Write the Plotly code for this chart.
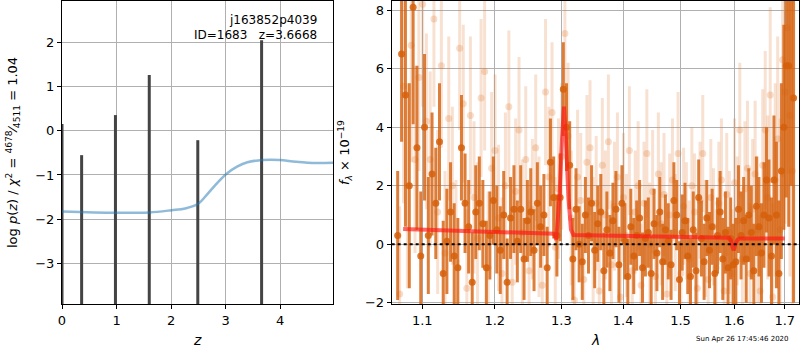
import plotly.graph_objects as go

# ---------------- left panel data ----------------
pz_grid = [0.0, 0.98, 1.6, 2.01, 2.26, 2.49, 2.69, 2.87, 3.03, 3.21, 3.40, 3.68, 3.99, 4.29, 4.66, 4.97]
pz_prior = [-1.83, -1.86, -1.85, -1.80, -1.76, -1.66, -1.40, -1.15, -0.96, -0.81, -0.71, -0.66, -0.66, -0.70, -0.73, -0.72]
peak_z = [0.0, 0.36, 0.98, 1.60, 2.49, 3.66]
peak_logp = [0.16, -0.55, 0.36, 1.27, -0.21, 2.06]
pz_floor = -3.93

# ---------------- right panel data ----------------
dark_wave = [1.068, 1.073, 1.078, 1.083, 1.088, 1.093, 1.098, 1.103, 1.108, 1.113,
             1.118, 1.123, 1.128, 1.133, 1.138, 1.143, 1.148, 1.153, 1.158, 1.163,
             1.168, 1.173, 1.178, 1.183, 1.188, 1.193, 1.198, 1.203, 1.208, 1.213,
             1.218, 1.223, 1.228, 1.233, 1.238, 1.243, 1.248, 1.253, 1.258, 1.263,
             1.268, 1.273, 1.278, 1.283, 1.288, 1.293, 1.298, 1.303, 1.308, 1.313,
             1.318, 1.323, 1.328, 1.333, 1.338, 1.343, 1.348, 1.353, 1.358, 1.363,
             1.368, 1.373, 1.378, 1.383, 1.388, 1.393, 1.398, 1.403, 1.408, 1.413,
             1.418, 1.423, 1.428, 1.433, 1.438, 1.443, 1.448, 1.453, 1.458, 1.463,
             1.468, 1.473, 1.478, 1.483, 1.488, 1.493, 1.498, 1.503, 1.508, 1.513,
             1.518, 1.523, 1.528, 1.533, 1.538, 1.543, 1.548, 1.553, 1.558, 1.563,
             1.568, 1.573, 1.578, 1.583, 1.588, 1.593, 1.598, 1.603, 1.608, 1.613,
             1.618, 1.623, 1.628, 1.633, 1.638, 1.643, 1.648, 1.653, 1.658, 1.663,
             1.668, 1.673, 1.678, 1.683, 1.688, 1.693, 1.698, 1.703, 1.708, 1.713,
             1.718]
dark_flux = [0.3, 6.5, 5.1, 2.0, 8.1, 3.3, -0.4, 4.0, 0.3, 2.4,
             1.4, 3.5, -1.0, 0.1, 1.1, -0.4, -0.8, 3.3, 1.4, 0.6,
             -1.3, 1.1, 1.4, 0.7, -0.8, 0.3, 1.5, 0.5, -0.2, 1.0,
             -1.3, 0.9, 1.2, 0.1, 1.2, -0.5, 0.8, 1.1, -0.2, 1.4,
             0.6, 1.0, -0.8, 2.8, 1.6, 0.3, 1.6, 5.3, 4.0, 2.7,
             -0.5, 1.2, 0.0, -0.6, 1.0, 0.3, 1.4, -0.2, 0.7, 1.1,
             -0.9, 0.5, -0.3, 0.8, 1.2, -0.7, 1.4, 0.1, -1.1, 0.6,
             -0.4, 0.3, 0.9, -0.8, 0.2, 0.4, -1.0, 0.7, -0.3, 1.1,
             -0.6, 0.5, 0.1, -0.7, 1.5, 1.0, -1.2, 0.4, 0.8, -0.4,
             -1.1, 0.5, -0.9, 1.6, 0.2, -0.6, 0.9, -0.2, 0.6, -1.0,
             0.3, 1.1, -0.5, 0.4, -0.8, 0.2, -0.7, -0.6, 1.2, 0.3,
             0.8, -0.5, 1.0, 0.4, -0.9, 1.3, 0.6, -0.3, 1.0, 2.2,
             0.9, -0.4, 2.2, 1.0, -1.0, 2.5, 4.0, 6.1, 6.1, 8.5,
             5.0]
dark_err = [2.2, 3.0, 4.5, 3.5, 4.0, 2.8, 2.2, 2.5, 2.0, 2.1,
            1.9, 2.0, 1.8, 1.8, 1.7, 1.8, 1.7, 1.8, 1.7, 1.6,
            1.7, 1.6, 1.6, 1.5, 1.6, 1.5, 1.5, 1.5, 1.5, 1.5,
            1.5, 1.4, 1.5, 1.4, 1.5, 1.4, 1.4, 1.5, 1.4, 1.4,
            1.4, 1.4, 1.4, 1.5, 1.4, 1.4, 1.5, 1.6, 1.5, 1.5,
            1.4, 1.4, 1.3, 1.3, 1.3, 1.3, 1.3, 1.3, 1.3, 1.3,
            1.3, 1.3, 1.3, 1.3, 1.3, 1.3, 1.3, 1.3, 1.3, 1.3,
            1.3, 1.2, 1.3, 1.2, 1.3, 1.2, 1.3, 1.2, 1.3, 1.2,
            1.3, 1.2, 1.3, 1.2, 1.3, 1.2, 1.3, 1.3, 1.3, 1.3,
            1.3, 1.3, 1.3, 1.3, 1.3, 1.3, 1.3, 1.3, 1.3, 1.3,
            1.3, 1.4, 1.4, 1.4, 1.4, 1.4, 1.4, 1.5, 1.5, 1.5,
            1.5, 1.5, 1.6, 1.6, 1.6, 1.7, 1.7, 1.7, 1.8, 1.8,
            2.0, 2.0, 2.2, 2.5, 2.5, 3.0, 3.5, 4.5, 5.5, 6.5,
            7.0]

light_wave = [1.0705, 1.0755, 1.0805, 1.0855, 1.0905, 1.0955, 1.1005, 1.1055, 1.1105, 1.1155,
              1.1205, 1.1255, 1.1305, 1.1355, 1.1405, 1.1455, 1.1505, 1.1555, 1.1605, 1.1655,
              1.1705, 1.1755, 1.1805, 1.1855, 1.1905, 1.1955, 1.2005, 1.2055, 1.2105, 1.2155,
              1.2205, 1.2255, 1.2305, 1.2355, 1.2405, 1.2455, 1.2505, 1.2555, 1.2605, 1.2655,
              1.2705, 1.2755, 1.2805, 1.2855, 1.2905, 1.2955, 1.3005, 1.3055, 1.3105, 1.3155,
              1.3205, 1.3255, 1.3305, 1.3355, 1.3405, 1.3455, 1.3505, 1.3555, 1.3605, 1.3655,
              1.3705, 1.3755, 1.3805, 1.3855, 1.3905, 1.3955, 1.4005, 1.4055, 1.4105, 1.4155,
              1.4205, 1.4255, 1.4305, 1.4355, 1.4405, 1.4455, 1.4505, 1.4555, 1.4605, 1.4655,
              1.4705, 1.4755, 1.4805, 1.4855, 1.4905, 1.4955, 1.5005, 1.5055, 1.5105, 1.5155,
              1.5205, 1.5255, 1.5305, 1.5355, 1.5405, 1.5455, 1.5505, 1.5555, 1.5605, 1.5655,
              1.5705, 1.5755, 1.5805, 1.5855, 1.5905, 1.5955, 1.6005, 1.6055, 1.6105, 1.6155,
              1.6205, 1.6255, 1.6305, 1.6355, 1.6405, 1.6455, 1.6505, 1.6555, 1.6605, 1.6655,
              1.6705, 1.6755, 1.6805, 1.6855, 1.6905, 1.6955, 1.7005, 1.7055, 1.7105, 1.7155]
light_flux = [-1.7, 5.4, 2.0, 6.8, 2.9, 5.7, 8.2, 4.2, 2.9, 7.7,
              1.1, 6.1, -0.3, 4.3, 2.0, -0.6, 6.7, 4.8, -1.5, 4.4,
              1.6, 0.2, 5.0, 5.9, -0.8, 2.6, 3.2, 0.9, -1.0, 2.0,
              4.7, -1.3, 1.8, 3.9, 0.4, 2.9, -0.9, 1.2, 3.3, 0.6,
              -1.4, 5.2, 2.3, 4.5, -0.1, 1.9, 3.0, 7.2, 3.7, 0.9,
              -1.9, 2.3, 1.5, -1.2, 2.8, 3.3, 0.1, 1.4, -1.6, 2.7,
              1.0, 3.5, -0.7, 1.3, 2.3, -1.8, 1.6, 0.3, 3.2, -0.9,
              1.1, 2.0, -1.4, 1.4, 3.1, 0.0, 1.8, -1.1, 2.4, 0.7,
              1.7, -1.7, 1.0, 2.2, 0.4, 3.1, -1.0, 1.3, 0.8, -0.5,
              2.0, 1.1, -1.5, 1.5, 3.1, 0.2, -1.2, 1.6, 0.6, -0.8,
              1.4, 2.2, -1.6, 1.7, 0.4, -1.0, 2.1, 0.8, 3.9, -0.5,
              1.9, 2.6, -1.0, 1.2, 2.4, 0.5, -1.6, 2.7, 3.9, 1.6,
              5.1, -1.8, 2.2, 3.6, 0.5, 6.3, 5.2, 7.4, 4.4, 2.5]
light_err = [3.0, 4.0, 3.5, 4.0, 3.2, 3.2, 3.5, 3.0, 3.0, 3.0,
             2.8, 2.8, 2.8, 2.8, 2.7, 2.8, 2.8, 2.7, 2.7, 2.7,
             2.6, 2.6, 2.7, 2.7, 2.6, 2.6, 2.6, 2.5, 2.6, 2.5,
             2.6, 2.5, 2.5, 2.5, 2.5, 2.5, 2.4, 2.4, 2.5, 2.4,
             2.4, 2.5, 2.4, 2.4, 2.4, 2.4, 2.5, 2.6, 2.5, 2.3,
             2.3, 2.3, 2.3, 2.3, 2.3, 2.3, 2.2, 2.3, 2.2, 2.3,
             2.2, 2.3, 2.2, 2.2, 2.2, 2.2, 2.2, 2.1, 2.2, 2.1,
             2.1, 2.2, 2.1, 2.1, 2.2, 2.1, 2.1, 2.1, 2.1, 2.1,
             2.1, 2.1, 2.1, 2.1, 2.0, 2.1, 2.0, 2.0, 2.0, 2.0,
             2.0, 2.0, 2.0, 2.0, 2.0, 2.0, 2.0, 2.0, 2.0, 2.0,
             2.1, 2.1, 2.1, 2.1, 2.1, 2.2, 2.2, 2.2, 2.3, 2.3,
             2.3, 2.3, 2.4, 2.4, 2.5, 2.5, 2.6, 2.6, 2.7, 2.8,
             3.0, 3.2, 3.3, 3.5, 3.8, 4.0, 4.5, 5.0, 5.5, 6.0]

model_wave = [1.075, 1.289, 1.292, 1.297, 1.301, 1.304, 1.307, 1.311, 1.315, 1.319,
              1.590, 1.594, 1.597, 1.599, 1.602, 1.606, 1.610, 1.700]
model_flux = [0.52, 0.36, 0.15, 1.6, 3.6, 4.7, 3.6, 1.6, 0.5, 0.32,
              0.22, 0.12, -0.12, -0.2, 0.0, 0.15, 0.2, 0.2]

pz_xticks = [0, 1, 2, 3, 4]
pz_yticks = [-3, -2, -1, 0, 1, 2]
sp_xticks = [1.1, 1.2, 1.3, 1.4, 1.5, 1.6, 1.7]
sp_yticks = [-2, 0, 2, 4, 6, 8]

FONT = "DejaVu Sans"
GRID = "#b0b0b0"

fig = go.Figure()

# --- left: peaks of p(z)
seg_x, seg_y = [], []
for zz, lp in zip(peak_z, peak_logp):
    seg_x += [zz, zz, None]
    seg_y += [pz_floor, lp, None]
fig.add_trace(go.Scatter(x=seg_x, y=seg_y, mode="lines",
                         line=dict(color="#444444", width=3),
                         xaxis="x", yaxis="y", showlegend=False, hoverinfo="skip"))
# prior curve
fig.add_trace(go.Scatter(x=pz_grid, y=pz_prior, mode="lines",
                         line=dict(color="rgba(31,119,180,0.5)", width=2.5, shape="spline"),
                         xaxis="x", yaxis="y", showlegend=False))

# --- right: spectra
fig.add_trace(go.Scatter(x=light_wave, y=light_flux, mode="markers",
                         marker=dict(size=7, color="rgba(225,120,45,0.25)"),
                         error_y=dict(type="data", array=light_err, thickness=3, width=0,
                                      color="rgba(225,120,45,0.22)"),
                         xaxis="x2", yaxis="y2", showlegend=False))
fig.add_trace(go.Scatter(x=dark_wave, y=dark_flux, mode="markers",
                         marker=dict(size=7, color="rgba(213,95,10,0.85)"),
                         error_y=dict(type="data", array=dark_err, thickness=3, width=0,
                                      color="rgba(213,95,10,0.8)"),
                         xaxis="x2", yaxis="y2", showlegend=False))
fig.add_trace(go.Scatter(x=model_wave, y=model_flux, mode="lines",
                         line=dict(color="rgba(255,20,20,0.65)", width=4),
                         xaxis="x2", yaxis="y2", showlegend=False))

axis_common = dict(showline=True, linecolor="black", linewidth=1, mirror=True,
                   ticks="outside", ticklen=4, tickcolor="black", automargin=False,
                   showgrid=True, gridcolor=GRID, gridwidth=1, zeroline=False,
                   tickfont=dict(family=FONT, size=13, color="black"))

fig.update_layout(
    width=800, height=350,
    margin=dict(l=0, r=0, t=0, b=0, autoexpand=False),
    paper_bgcolor="white", plot_bgcolor="white",
    font=dict(family=FONT, color="black"),
    xaxis=dict(domain=[0.0775, 0.4163], range=[0, 4.97], tickvals=pz_xticks,
               anchor="y", **axis_common),
    yaxis=dict(domain=[0.1314, 0.9971], range=[-3.93, 2.95], tickvals=pz_yticks,
               tickformat="d", anchor="x", **axis_common),
    xaxis2=dict(domain=[0.4896, 0.9985], type="log", range=[0.02544, 0.23775],
                tickvals=sp_xticks, ticktext=[f"{v:.1f}" for v in sp_xticks],
                anchor="y2", **axis_common),
    yaxis2=dict(domain=[0.1314, 0.9971], range=[-2.04, 8.31], tickvals=sp_yticks,
                anchor="x2", **axis_common),
    shapes=[dict(type="line", xref="x2 domain", yref="y2", x0=0, x1=1, y0=0, y1=0,
                 line=dict(color="black", width=2, dash="dot"), layer="above")],
    annotations=[
        dict(text="j163852p4039", xref="paper", yref="paper", x=319/800, y=1-20/350,
             xanchor="right", yanchor="middle", showarrow=False,
             font=dict(family=FONT, size=12)),
        dict(text="ID=1683\u00a0\u00a0\u00a0z=3.6668", xref="paper", yref="paper", x=319/800, y=1-35/350,
             xanchor="right", yanchor="middle", showarrow=False,
             font=dict(family=FONT, size=12)),
        dict(text="<i>z</i>", xref="paper", yref="paper", x=197/800, y=1-340/350,
             xanchor="center", yanchor="middle", showarrow=False,
             font=dict(family=FONT, size=14)),
        dict(text="<i>λ</i>", xref="paper", yref="paper", x=595/800, y=1-340/350,
             xanchor="center", yanchor="middle", showarrow=False,
             font=dict(family=FONT, size=14)),
        dict(text="log <i>p</i>(<i>z</i>) / <i>χ</i><sup>2</sup> = <sup>4678</sup>⁄<sub>4511</sub> = 1.04",
             xref="paper", yref="paper", x=13/800, y=1-153/350, textangle=-90,
             xanchor="center", yanchor="middle", showarrow=False,
             font=dict(family=FONT, size=13)),
        dict(text="<i>f</i><sub><i>λ</i></sub> × 10<sup>−19</sup>",
             xref="paper", yref="paper", x=345/800, y=1-153/350, textangle=-90,
             xanchor="center", yanchor="middle", showarrow=False,
             font=dict(family=FONT, size=13)),
        dict(text="Sun Apr 26 17:45:46 2020", xref="paper", yref="paper",
             x=742/800, y=1-339/350, xanchor="center", yanchor="middle", showarrow=False,
             font=dict(family=FONT, size=7)),
    ],
)

fig.write_html("out.html")
